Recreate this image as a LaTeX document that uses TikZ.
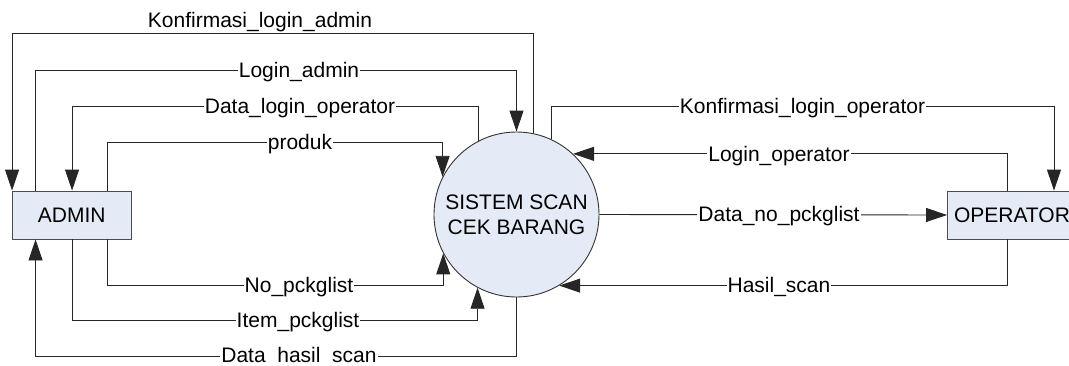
\documentclass[tikz,border=0pt]{standalone}
\usepackage{fontspec}
\setmainfont{Liberation Sans}
\usetikzlibrary{arrows.meta}
\definecolor{boxfill}{RGB}{229,235,246}
\begin{document}
\begin{tikzpicture}[x=1pt,y=-1pt,
  flow/.style={draw=black!85, line width=0.9pt},
  arr/.style={flow, -{Triangle[length=21pt,width=14pt]}},
  lbl/.style={fill=white, inner sep=1pt, font=\fontsize{21}{25}\selectfont, anchor=base},
  toplbl/.style={inner sep=0pt, font=\fontsize{21}{25}\selectfont, anchor=base},
  entity/.style={rectangle, draw=black!70, fill=boxfill, line width=0.9pt, minimum height=48pt, inner sep=0pt, font=\fontsize{21}{25}\selectfont},
  proc/.style={circle, draw=black!80, fill=boxfill, line width=0.9pt, minimum size=165pt, inner sep=0pt, align=center, font=\fontsize{21}{25}\selectfont}]
\clip (0,0) rectangle (1069,365);
\fill[white] (0,0) rectangle (1069,365);

% nodes
\node[entity, minimum width=118.5pt] (admin) at (71.75,215) {ADMIN};
\node[entity, minimum width=129pt, anchor=west] (oper) at (947,215) {OPERATOR};
\node[proc] (sys) at (516.5,214.5) {SISTEM SCAN\\CEK BARANG};

% attachment points
\coordinate (aN1) at ([xshift=23.5pt]admin.north west);
\coordinate (aN2) at ([xshift=60pt]admin.north west);
\coordinate (aN3) at ([xshift=95.5pt]admin.north west);
\coordinate (aS1) at ([xshift=23.5pt]admin.south west);
\coordinate (aS2) at ([xshift=60pt]admin.south west);
\coordinate (aS3) at ([xshift=95.5pt]admin.south west);
\coordinate (oN1) at ([xshift=60pt]oper.north west);
\coordinate (oN2) at ([xshift=107pt]oper.north west);
\coordinate (oS1) at ([xshift=60pt]oper.south west);

% admin side connectors
\draw[arr] (sys.78.5) |- (admin.north west |- 0,33) -- (admin.north west);
\draw[arr] (aN1) |- (sys.north |- 0,70) -- (sys.north);
\draw[arr] (sys.117) |- (aN2 |- 0,106) -- (aN2);
\draw[arr] (aN3) |- (sys.153 |- 0,142) -- (sys.153);
\draw[arr] (aS3) |- (sys.208.5 |- 0,285) -- (sys.208.5);
\draw[arr] (aS2) |- (sys.242.7 |- 0,320) -- (sys.242.7);
\draw[arr] (sys.south) |- (aS1 |- 0,356) -- (aS1);

% operator side connectors
\draw[arr] (sys.65.3) |- (oN2 |- 0,106) -- (oN2);
\draw[arr] (oN1) |- (sys.47.2);
\draw[arr] (sys.east) -- (oper.west);
\draw[arr] (oS1) |- (sys.301.3);

% labels
\node[toplbl] (l1) at (260,27) {Konfirmasi\_login\_admin};
\node[lbl] (l2) at (299,77.5) {Login\_admin};
\node[lbl] (l3) at (300,113.5) {Data\_login\_operator};
\node[lbl] (l4) at (300,149.5) {produk};
\node[lbl] (l5) at (299,292.5) {No\_pckglist};
\node[lbl] (l6) at (298,327.5) {Item\_pckglist};
\node[lbl, inner ysep=0.3pt] (l7) at (299,362.5) {Data\ \ hasil\ \ scan};
\node[lbl] (l8) at (802.5,113.5) {Konfirmasi\_login\_operator};
\node[lbl] (l9) at (779,161.5) {Login\_operator};
\node[lbl] (l10) at (779,221.5) {Data\_no\_pckglist};
\node[lbl] (l11) at (779,292.5) {Hasil\_scan};
\end{tikzpicture}
\end{document}
